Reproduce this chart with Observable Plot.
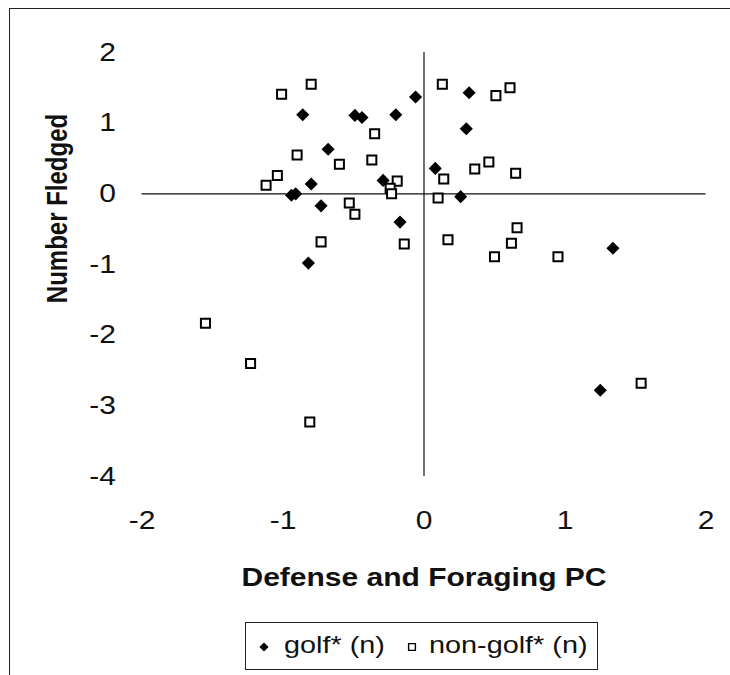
<!DOCTYPE html>
<html>
<head>
<meta charset="utf-8">
<script src="https://cdn.jsdelivr.net/npm/d3@7"></script>
<script src="https://cdn.jsdelivr.net/npm/@observablehq/plot@0.6"></script>
<style>
  html, body { margin: 0; padding: 0; background: #fff; }
  #wrap { position: relative; width: 730px; height: 675px; overflow: hidden;
          font-family: "Liberation Sans", Arial, sans-serif; color: #111; }
  #wrap > svg { position: absolute; left: 0; top: 0; }
  .frame-left { position: absolute; left: 9px; top: 8px; width: 1px; height: 667px; background: #222; }
  .frame-top  { position: absolute; left: 9px; top: 8px; width: 721px; height: 1px; background: #222; }
  #legend { position: absolute; left: 245px; top: 622px; width: 353px; height: 48px;
            border: 1px solid #222; box-sizing: border-box; }
  #legend .sym { position: absolute; top: 0; }
  #legend .lab { position: absolute; top: 8px; font-size: 24px; line-height: 28px;
                 white-space: nowrap; transform: scaleX(1.2); transform-origin: left center; }
</style>
</head>
<body>
<div id="wrap">
  <div class="frame-left"></div>
  <div class="frame-top"></div>
</div>
<script>
// Golf-course territories
const golfX = [-0.06, -0.86, -0.49, -0.44, -0.20, -0.68, -0.80, -0.29, -0.94, -0.91,
               -0.73, -0.17, -0.82, 0.32, 0.30, 0.08, 0.26, 1.34, 1.25];
const golfY = [1.37, 1.12, 1.11, 1.08, 1.12, 0.63, 0.14, 0.19, -0.02, 0.00,
               -0.17, -0.40, -0.98, 1.43, 0.92, 0.36, -0.04, -0.77, -2.78];

// Non-golf territories
const nonGolfX = [-0.80, -1.01, -0.35, -0.90, -0.60, -0.37, -1.04, -1.12, -0.19, -0.24,
                  -0.23, -0.53, -0.49, -0.73, -0.14, -1.55, -1.23, -0.81, 0.13, 0.51,
                  0.61, 0.14, 0.36, 0.46, 0.65, 0.10, 0.17, 0.66, 0.62, 0.50, 0.95, 1.54];
const nonGolfY = [1.55, 1.41, 0.85, 0.55, 0.42, 0.48, 0.26, 0.12, 0.18, 0.08,
                  0.00, -0.13, -0.29, -0.68, -0.71, -1.83, -2.40, -3.23, 1.55, 1.39,
                  1.50, 0.21, 0.35, 0.45, 0.29, -0.06, -0.65, -0.48, -0.70, -0.89, -0.89, -2.68];

const xTicks = [-2, -1, 0, 1, 2];
const xTickLabels = ["-2", "-1", "0", "1", "2"];
const yTicks = [2, 1, 0, -1, -2, -3, -4];
const yTickLabels = ["2", "1", "0", "-1", "-2", "-3", "-4"];

const xTitle = "Defense and Foraging PC";
const yTitle = "Number Fledged";
const seriesNames = ["golf* (n)", "non-golf* (n)"];

const golf = golfX.map((x, i) => ({x, y: golfY[i]}));
const nonGolf = nonGolfX.map((x, i) => ({x, y: nonGolfY[i]}));

const chart = Plot.plot({
  width: 730,
  height: 615,
  marginLeft: 141.5,
  marginRight: 24.5,
  marginTop: 52,
  marginBottom: 139,
  x: {domain: [-2, 2], axis: null},
  y: {domain: [-4, 2], axis: null},
  style: {fontFamily: "'Liberation Sans', Arial, sans-serif", background: "transparent", color: "#111"},
  marks: [
    Plot.ruleY([0], {stroke: "#111", strokeWidth: 1.2}),
    Plot.ruleX([0], {stroke: "#111", strokeWidth: 1.2}),
    Plot.dot(golf, {x: "x", y: "y", symbol: "diamond2", r: 5.9, fill: "#000", stroke: "none"}),
    Plot.dot(nonGolf, {x: "x", y: "y", symbol: "square", r: 5.1, fill: "#fff", stroke: "#000", strokeWidth: 2}),
    // tick labels along the bottom and left of the plot area
    Plot.text(xTicks, {x: d => d, text: (d, i) => xTickLabels[i], frameAnchor: "bottom",
                       dy: 44, textAnchor: "middle", lineAnchor: "middle", fontSize: 25, fill: "#111"}),
    Plot.text(yTicks, {y: d => d, text: (d, i) => yTickLabels[i], frameAnchor: "left",
                       dx: -26, textAnchor: "end", lineAnchor: "middle", fontSize: 25, fill: "#111"}),
    // axis titles
    Plot.text([xTitle], {frameAnchor: "bottom", dy: 101, textAnchor: "middle", lineAnchor: "middle",
                         fontSize: 25, fontWeight: "bold", fill: "#111"}),
    Plot.text([yTitle], {frameAnchor: "left", dx: -84, dy: -56, rotate: -90,
                         textAnchor: "middle", lineAnchor: "middle",
                         fontSize: 24, fontWeight: "bold", fill: "#111"})
  ]
});

// widen the lettering horizontally (the type in this figure is set wide);
// the stretch is appended after each label's own translate/rotate
d3.select(chart).selectAll("text").each(function () {
  const t = d3.select(this);
  const tr = t.attr("transform") || "";
  const s = tr.includes("rotate") ? "scale(1,1.2)" : "scale(1.2,1)";
  t.attr("transform", `${tr} ${s}`);
});

const wrap = document.getElementById("wrap");
wrap.appendChild(chart);

// legend box below the plot
const legend = d3.select(wrap).append("div").attr("id", "legend");
const symDiamond = d3.symbol(d3.symbolDiamond2, 4.6 * 4.6 / (0.62625 * 0.62625))();
const symSquare = d3.symbol(d3.symbolSquare, 6.8 * 6.8)();
const items = [
  {sx: 18, tx: 38, path: symDiamond, fill: "#000", stroke: "none", sw: 0},
  {sx: 166, tx: 183, path: symSquare, fill: "#fff", stroke: "#000", sw: 1.4}
];
items.forEach((it, i) => {
  legend.append("svg").attr("class", "sym")
    .attr("width", 20).attr("height", 46)
    .style("left", `${it.sx - 10}px`)
    .append("path").attr("d", it.path)
    .attr("transform", "translate(10,24)")
    .attr("fill", it.fill).attr("stroke", it.stroke).attr("stroke-width", it.sw);
  legend.append("div").attr("class", "lab").style("left", `${it.tx}px`).text(seriesNames[i]);
});
</script>
</body>
</html>
